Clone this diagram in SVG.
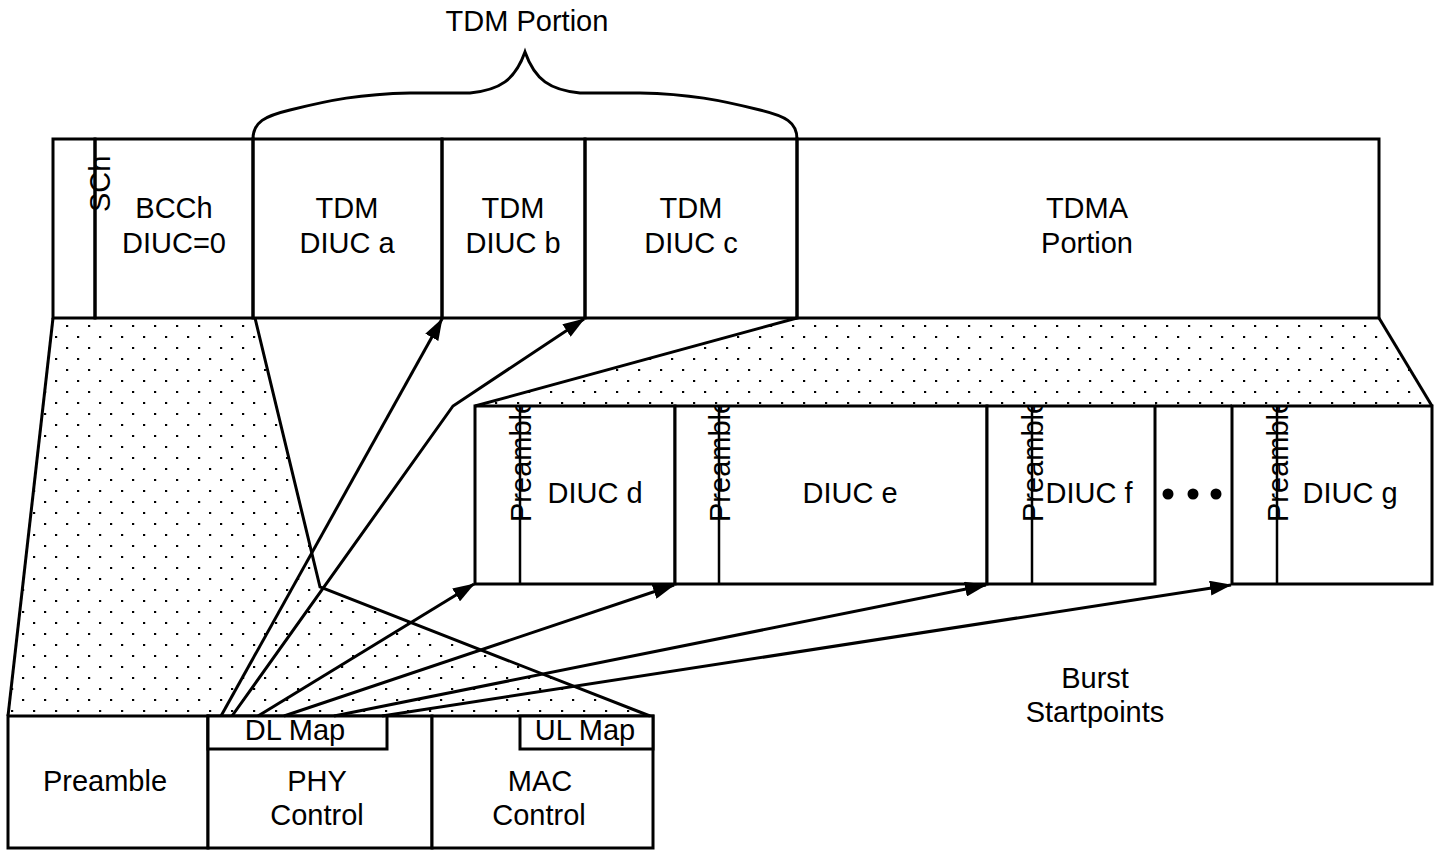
<svg xmlns="http://www.w3.org/2000/svg" width="1442" height="851" viewBox="0 0 1442 851">
<style>
.box{fill:#fff;stroke:#000;stroke-width:3}
.frame{fill:none;stroke:#000;stroke-width:3}
.ln{fill:none;stroke:#000;stroke-width:3}
.thin{fill:none;stroke:#000;stroke-width:2.5}
.t{font-family:"Liberation Sans",Arial,sans-serif;font-size:29px;fill:#000;text-anchor:middle}
.rt{font-family:"Liberation Sans",Arial,sans-serif;font-size:29px;fill:#000;text-anchor:start}
.arr{fill:none;stroke:#000;stroke-width:3;marker-end:url(#ah)}
.dots{fill:url(#dots);stroke:none}
</style>
<defs>
<pattern id="dots" width="22" height="22" patternUnits="userSpaceOnUse">
<rect x="0" y="17" width="2.2" height="2" fill="#000"/>
<rect x="11" y="6" width="2.2" height="2" fill="#000"/>
</pattern>
<marker id="ah" viewBox="0 0 22 15" refX="21" refY="7.5" markerWidth="22" markerHeight="15" markerUnits="userSpaceOnUse" orient="auto">
<path d="M0,0 L22,7.5 L0,15 z" fill="#000"/>
</marker>
<clipPath id="burstclip"><rect x="0" y="407" width="1442" height="176"/></clipPath>
</defs>
<rect width="1442" height="851" fill="#fff"/>

<!-- dotted expansion areas -->
<polygon class="dots" points="53,318 255,318 320,587 650,716 8,716"/>
<polygon class="dots" points="797,318 1379,318 1432,406 475,406"/>

<!-- TDM Portion brace -->
<g id="tdm-portion">
<path class="ln" d="M253,139 C253,122 265,116 290,110 C330,100 360,94 410,93 L470,93 C500,90 515,80 525,52 C535,80 550,90 580,93 L640,93 C690,94 720,100 760,110 C785,116 797,122 797,139"/>
<text class="t" x="527" y="31">TDM Portion</text>
</g>

<!-- top frame -->
<g id="sch">
<rect class="frame" x="53" y="139" width="42" height="179"/>
<text class="rt" transform="translate(110,212) rotate(-90)">SCh</text>
</g>
<g id="bcch">
<rect class="frame" x="95" y="139" width="158" height="179"/>
<text class="t" x="174" y="218">BCCh</text>
<text class="t" x="174" y="253">DIUC=0</text>
</g>
<g id="tdm-a">
<rect class="frame" x="253" y="139" width="189" height="179"/>
<text class="t" x="347" y="218">TDM</text>
<text class="t" x="347" y="253">DIUC a</text>
</g>
<g id="tdm-b">
<rect class="frame" x="442" y="139" width="143" height="179"/>
<text class="t" x="513" y="218">TDM</text>
<text class="t" x="513" y="253">DIUC b</text>
</g>
<g id="tdm-c">
<rect class="frame" x="585" y="139" width="212" height="179"/>
<text class="t" x="691" y="218">TDM</text>
<text class="t" x="691" y="253">DIUC c</text>
</g>
<g id="tdma">
<rect class="frame" x="797" y="139" width="582" height="179"/>
<text class="t" x="1087" y="218">TDMA</text>
<text class="t" x="1087" y="253">Portion</text>
</g>

<!-- bursts -->
<g id="burst-d">
<rect class="box" x="475" y="406" width="200" height="178"/>
<line class="thin" x1="520" y1="406" x2="520" y2="584"/>
<g clip-path="url(#burstclip)"><text class="rt" transform="translate(531,522) rotate(-90)">Preamble</text></g>
<text class="t" x="595" y="503">DIUC d</text>
</g>
<g id="burst-e">
<rect class="box" x="675" y="406" width="312" height="178"/>
<line class="thin" x1="719" y1="406" x2="719" y2="584"/>
<g clip-path="url(#burstclip)"><text class="rt" transform="translate(730,522) rotate(-90)">Preamble</text></g>
<text class="t" x="850" y="503">DIUC e</text>
</g>
<g id="burst-f">
<rect class="box" x="987" y="406" width="168" height="178"/>
<line class="thin" x1="1032" y1="406" x2="1032" y2="584"/>
<g clip-path="url(#burstclip)"><text class="rt" transform="translate(1043,522) rotate(-90)">Preamble</text></g>
<text class="t" x="1089" y="503">DIUC f</text>
</g>
<g id="burst-gap">
<line class="ln" x1="1155" y1="406" x2="1232" y2="406"/>
<circle cx="1168" cy="494" r="5.5" fill="#000"/>
<circle cx="1193" cy="494" r="5.5" fill="#000"/>
<circle cx="1216" cy="494" r="5.5" fill="#000"/>
</g>
<g id="burst-g">
<rect class="box" x="1232" y="406" width="200" height="178"/>
<line class="thin" x1="1277" y1="406" x2="1277" y2="584"/>
<g clip-path="url(#burstclip)"><text class="rt" transform="translate(1288,522) rotate(-90)">Preamble</text></g>
<text class="t" x="1350" y="503">DIUC g</text>
</g>

<!-- bottom frame -->
<g id="preamble">
<rect class="box" x="8" y="716" width="200" height="132"/>
<text class="t" x="105" y="791">Preamble</text>
</g>
<g id="phy-control">
<rect class="box" x="208" y="716" width="224" height="132"/>
<text class="t" x="317" y="791">PHY</text>
<text class="t" x="317" y="825">Control</text>
</g>
<g id="dl-map">
<rect class="box" x="208" y="716" width="179" height="33"/>
<text class="t" x="295" y="740">DL Map</text>
</g>
<g id="mac-control">
<rect class="box" x="432" y="716" width="221" height="132"/>
<text class="t" x="540" y="791">MAC</text>
<text class="t" x="539" y="825">Control</text>
</g>
<g id="ul-map">
<rect class="box" x="520" y="716" width="133" height="33"/>
<text class="t" x="585" y="740">UL Map</text>
</g>

<g id="burst-label">
<text class="t" x="1095" y="688">Burst</text>
<text class="t" x="1095" y="722">Startpoints</text>
</g>

<!-- connectors -->
<g id="connectors">
<line class="ln" x1="53" y1="318" x2="8" y2="716"/>
<polyline class="ln" points="255,318 320,587 650,716"/>
<line class="ln" x1="797" y1="318" x2="475" y2="406"/>
<line class="ln" x1="1379" y1="318" x2="1432" y2="406"/>
<line class="arr" x1="221" y1="716" x2="442" y2="319"/>
<polyline class="arr" points="232,716 453,406 584,319"/>
<line class="arr" x1="258" y1="716" x2="474" y2="584"/>
<line class="arr" x1="284" y1="716" x2="674" y2="585"/>
<line class="arr" x1="334" y1="716" x2="986" y2="585"/>
<line class="arr" x1="382" y1="716" x2="1231" y2="585"/>
</g>
</svg>
